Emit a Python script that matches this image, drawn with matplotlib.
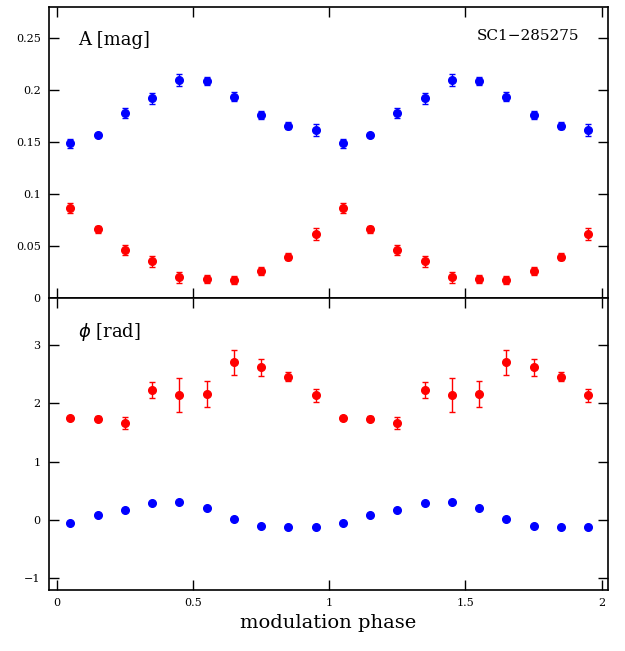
import numpy as np
import matplotlib
matplotlib.use("Agg")
import matplotlib.pyplot as plt

# modulation phase (two cycles shown; second is a repeat of the first)
phase = [0.05, 0.15, 0.25, 0.35, 0.45, 0.55, 0.65, 0.75, 0.85, 0.95]

# Amplitudes [mag]
amp_blue = [0.1487, 0.1567, 0.1782, 0.1920, 0.2099, 0.2087, 0.1939, 0.1763, 0.1660, 0.1615]
amp_blue_err = [0.0040, 0.0020, 0.0046, 0.0050, 0.0055, 0.0037, 0.0040, 0.0040, 0.0035, 0.0058]
amp_red = [0.0865, 0.0660, 0.0462, 0.0353, 0.0199, 0.0183, 0.0176, 0.0260, 0.0397, 0.0619]
amp_red_err = [0.0045, 0.0034, 0.0046, 0.0053, 0.0055, 0.0040, 0.0040, 0.0040, 0.0035, 0.0058]

# Phases [rad]
phi_red = [1.750, 1.733, 1.659, 2.227, 2.141, 2.152, 2.697, 2.611, 2.456, 2.135]
phi_red_err = [0.035, 0.045, 0.110, 0.140, 0.285, 0.225, 0.215, 0.145, 0.085, 0.107]
phi_blue = [-0.057, 0.092, 0.178, 0.287, 0.304, 0.207, 0.023, -0.109, -0.126, -0.121]
phi_blue_err = [0.02, 0.02, 0.02, 0.02, 0.02, 0.02, 0.02, 0.02, 0.02, 0.02]

xticks = [0, 0.5, 1, 1.5, 2]
xticklabels = ["0", "0.5", "1", "1.5", "2"]
top_yticks = [0, 0.05, 0.1, 0.15, 0.2, 0.25]
top_yticklabels = ["0", "0.05", "0.1", "0.15", "0.2", "0.25"]
bot_yticks = [-1, 0, 1, 2, 3]
bot_yticklabels = ["\u22121", "0", "1", "2", "3"]

x2 = np.concatenate([phase, np.array(phase) + 1])
def dup(a):
    return np.concatenate([a, a])

plt.rcParams['font.family'] = ['DejaVu Serif']
fig = plt.figure(figsize=(6.25, 6.51), dpi=100)
L, R = 0.0784, 0.9728
ax1 = fig.add_axes([L, 0.5422, R - L, 0.9892 - 0.5422])
ax2 = fig.add_axes([L, 0.0937, R - L, 0.5422 - 0.0937])

ekw = dict(fmt='o', ms=5.5, capsize=2.5, elinewidth=1.0, capthick=1.0)
ax1.errorbar(x2, dup(amp_blue), yerr=dup(amp_blue_err), color='#0000ff', **ekw)
ax1.errorbar(x2, dup(amp_red), yerr=dup(amp_red_err), color='#ff0000', **ekw)
ax2.errorbar(x2, dup(phi_red), yerr=dup(phi_red_err), color='#ff0000', **ekw)
ax2.errorbar(x2, dup(phi_blue), yerr=dup(phi_blue_err), color='#0000ff', **ekw)

for ax in (ax1, ax2):
    ax.set_xlim(-0.028, 2.023)
    ax.set_xticks(xticks)
    ax.tick_params(direction='in', length=7, width=1, top=True, right=True,
                   labelsize=8, pad=6)
    for s in ax.spines.values():
        s.set_linewidth(1.2)

ax1.set_ylim(0, 0.28)
ax1.set_yticks(top_yticks)
ax1.set_yticklabels(top_yticklabels)
ax1.set_xticklabels([])

ax2.set_ylim(-1.2, 3.8)
ax2.set_yticks(bot_yticks)
ax2.set_yticklabels(bot_yticklabels)
ax2.set_xticklabels(xticklabels)
ax2.set_xlabel("modulation phase", fontsize=14, labelpad=4)

ax1.text(0.052, 0.887, "A [mag]", transform=ax1.transAxes, fontsize=13,
         ha='left', va='center')
ax1.text(0.948, 0.90, "SC1\u2212285275", transform=ax1.transAxes, fontsize=11,
         ha='right', va='center')
ax2.text(0.052, 0.884, "$\\phi$ [rad]", transform=ax2.transAxes, fontsize=13,
         ha='left', va='center')

fig.savefig("out.png", dpi=100)
